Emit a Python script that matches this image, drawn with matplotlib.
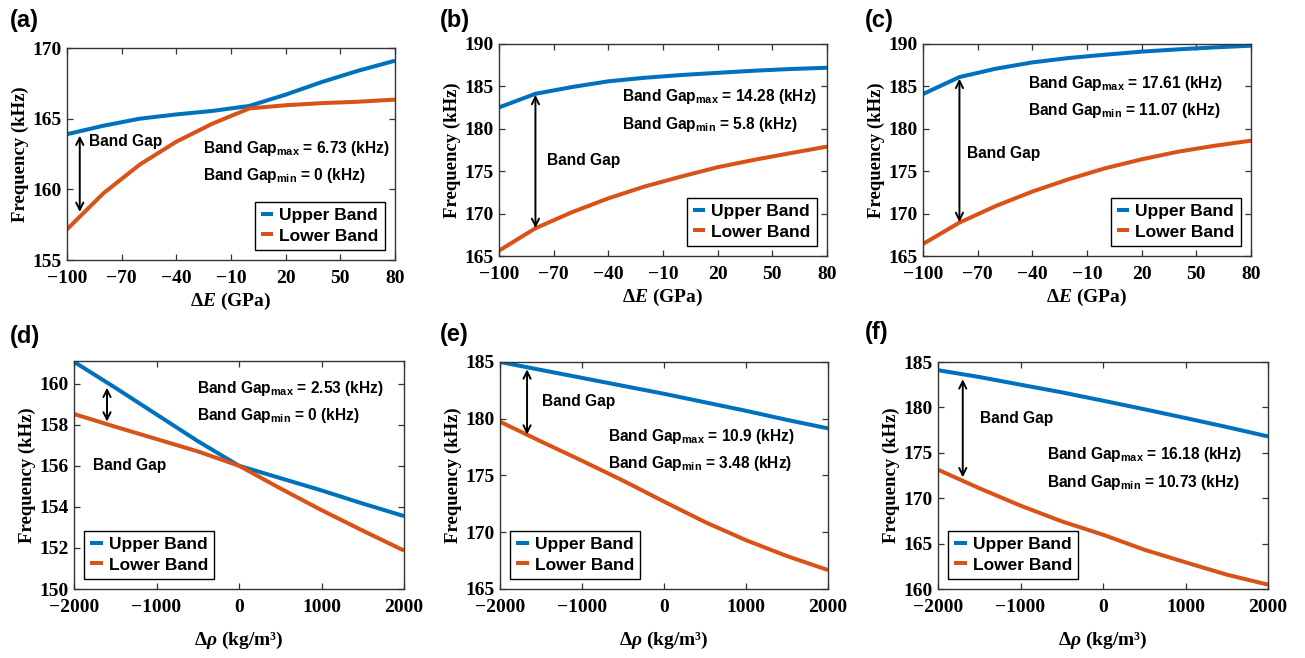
import matplotlib
matplotlib.use("Agg")
import matplotlib.pyplot as plt

# x values
dE = [-100, -80, -60, -40, -20, 0, 20, 40, 60, 80]
drho = [-2000, -1500, -1000, -500, 0, 500, 1000, 1500, 2000]

# band frequencies (kHz)
a_upper = [163.9, 164.5, 165.0, 165.3, 165.55, 165.9, 166.7, 167.6, 168.4, 169.1]
a_lower = [157.17, 159.72, 161.76, 163.37, 164.66, 165.72, 165.95, 166.1, 166.2, 166.35]
b_upper = [182.52, 184.13, 184.92, 185.6, 186.02, 186.34, 186.6, 186.85, 187.05, 187.2]
b_lower = [165.63, 168.27, 170.16, 171.8, 173.2, 174.37, 175.47, 176.34, 177.13, 177.9]
c_upper = [184.1, 186.1, 187.09, 187.83, 188.35, 188.74, 189.1, 189.37, 189.6, 189.8]
c_lower = [166.42, 168.94, 170.9, 172.6, 174.06, 175.35, 176.4, 177.3, 178.0, 178.6]
d_upper = [161.06, 159.8, 158.5, 157.2, 156.0, 155.4, 154.8, 154.16, 153.55]
d_lower = [158.52, 157.9, 157.3, 156.7, 156.0, 154.9, 153.84, 152.84, 151.87]
e_upper = [185.0, 184.3, 183.6, 182.9, 182.2, 181.45, 180.7, 179.9, 179.15]
e_lower = [179.74, 178.0, 176.3, 174.55, 172.7, 170.9, 169.3, 167.9, 166.67]
f_upper = [184.1, 183.35, 182.5, 181.66, 180.74, 179.8, 178.83, 177.84, 176.8]
f_lower = [173.14, 171.1, 169.18, 167.45, 165.98, 164.33, 162.94, 161.58, 160.48]

gap_max = ["6.73", "14.28", "17.61", "2.53", "10.9", "16.18"]
gap_min = ["0", "5.8", "11.07", "0", "3.48", "10.73"]
panel_tags = ["(a)", "(b)", "(c)", "(d)", "(e)", "(f)"]

E_ticks = [-100, -70, -40, -10, 20, 50, 80]
rho_ticks = [-2000, -1000, 0, 1000, 2000]

BLUE = "#0072BD"
ORANGE = "#D95319"

plt.rcParams["font.family"] = "Liberation Serif"
plt.rcParams["font.weight"] = "bold"
plt.rcParams["axes.labelweight"] = "bold"
plt.rcParams["mathtext.fontset"] = "custom"
plt.rcParams["mathtext.it"] = "Liberation Serif:italic:bold"
plt.rcParams["mathtext.rm"] = "Liberation Serif:bold"

W, H = 1305, 658
fig = plt.figure(figsize=(W / 100, H / 100), dpi=100)


def px_axes(x0, y0, x1, y1):
    return fig.add_axes([x0 / W, 1 - y1 / H, (x1 - x0) / W, (y1 - y0) / H])


panels = [
    # box, x, upper, lower, ylim, yticks, legend loc, arrow (x, ytop, ybot), band gap label, stats pos
    ((67, 48, 395, 260), dE, a_upper, a_lower, (155, 170), [155, 160, 165, 170],
     "lower right", (-93, 163.8, 158.4), (-88, 163.4), (-25.6, 162.9, 161.0)),
    ((499, 44, 827, 256), dE, b_upper, b_lower, (165, 190), [165, 170, 175, 180, 185, 190],
     "lower right", (-80, 184.0, 168.3), (-73.5, 176.3), (-32.4, 183.8, 180.5)),
    ((923, 44, 1251, 256), dE, c_upper, c_lower, (165, 190), [165, 170, 175, 180, 185, 190],
     "lower right", (-80, 185.9, 169.0), (-75.9, 177.1), (-42.6, 185.4, 182.2)),
    ((74, 361, 404, 589), drho, d_upper, d_lower, (150, 161.1), [150, 152, 154, 156, 158, 160],
     "lower left", (-1600, 159.8, 158.15), (-1774, 156.0), (-505, 159.76, 158.44)),
    ((500, 362, 828, 589), drho, e_upper, e_lower, (165, 185), [165, 170, 175, 180, 185],
     "lower left", (-1670, 184.35, 178.6), (-1492, 181.5), (-687, 178.47, 176.1)),
    ((938, 362, 1268, 589), drho, f_upper, f_lower, (160, 185), [160, 165, 170, 175, 180, 185],
     "lower left", (-1700, 183.1, 172.3), (-1494, 178.76), (-684, 174.8, 171.75)),
]

tag_pos = [(10, 20), (440, 20), (865, 20), (10, 337), (440, 335), (865, 333)]

for i, (box, xs, up, lo, ylim, yt, loc, arr, bg, st) in enumerate(panels):
    ax = px_axes(*box)
    ax.plot(xs, up, color=BLUE, lw=2.9, label="Upper Band", solid_capstyle="butt")
    ax.plot(xs, lo, color=ORANGE, lw=2.9, label="Lower Band", solid_capstyle="butt")
    ax.set_xlim(xs[0], xs[-1])
    ax.set_ylim(*ylim)
    ax.set_yticks(yt)
    if i < 3:
        ax.set_xticks(E_ticks)
        ax.set_xlabel(r"Δ$\mathit{E}$ (GPa)", fontsize=14, labelpad=3)
    else:
        ax.set_xticks(rho_ticks)
        ax.set_xlabel(r"Δ$\mathit{ρ}$ (kg/m³)", fontsize=14, labelpad=10)
    ax.set_ylabel("Frequency (kHz)", fontsize=13.5, labelpad=2)
    ax.tick_params(direction="in", length=4, width=0.9, labelsize=14, top=True, right=True,
                   color="#333333")
    ax.tick_params(axis="x", pad=7)
    ax.tick_params(axis="y", pad=4)
    for s in ax.spines.values():
        s.set_color("#333333")
        s.set_linewidth(1.0)

    ax.annotate("", xy=(arr[0], arr[2]), xytext=(arr[0], arr[1]),
                arrowprops=dict(arrowstyle="<->", color="black", lw=1.4,
                                shrinkA=0, shrinkB=0, mutation_scale=13))
    sans = dict(family="Liberation Sans", weight="bold", fontsize=11.2)
    ax.text(bg[0], bg[1], "Band Gap", ha="left", va="center", **sans)
    ax.text(st[0], st[1], r"Band Gap$_{\mathregular{max}}$ = " + gap_max[i] + " (kHz)",
            ha="left", va="center", **sans)
    ax.text(st[0], st[2], r"Band Gap$_{\mathregular{min}}$ = " + gap_min[i] + " (kHz)",
            ha="left", va="center", **sans)

    leg = ax.legend(loc=loc, prop=dict(family="Liberation Sans", weight="bold", size=12.5),
                    handlelength=0.7, handletextpad=0.35, labelspacing=0.3,
                    borderpad=0.35, fancybox=False, framealpha=1, borderaxespad=0.6)
    leg.get_frame().set_edgecolor("black")
    leg.get_frame().set_linewidth(1.0)

    tx, ty = tag_pos[i]
    fig.text(tx / W, 1 - ty / H, panel_tags[i], ha="left", va="center",
             family="Liberation Sans", weight="bold", fontsize=17)

fig.savefig("out.png", dpi=100)
